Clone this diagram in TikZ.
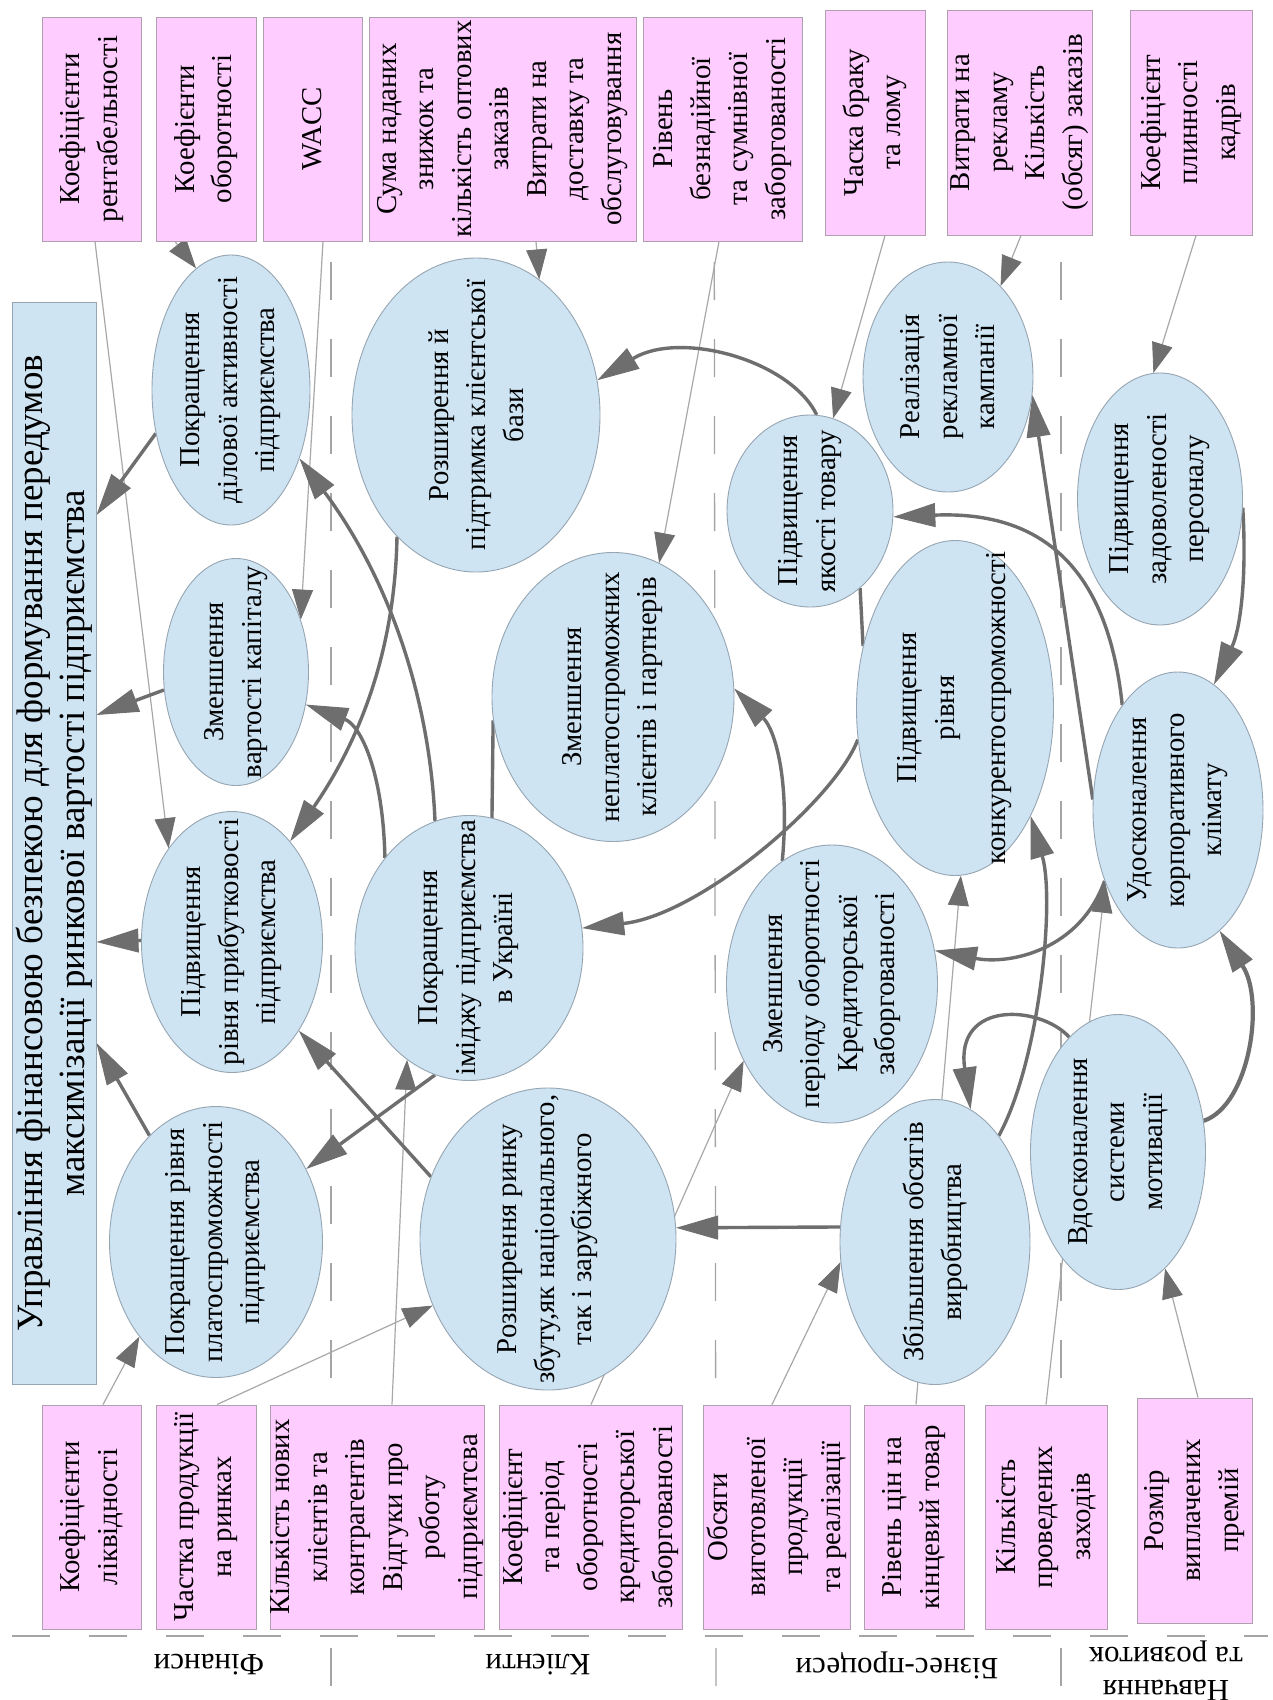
\documentclass[tikz,border=0pt]{standalone}
\usepackage{fontspec}
\setmainfont{Liberation Serif}
\usetikzlibrary{arrows.meta,shapes.geometric,backgrounds}

\definecolor{boxpink}{RGB}{255,204,255}
\definecolor{boxedge}{RGB}{175,160,175}
\definecolor{ovalblue}{RGB}{206,228,243}
\definecolor{ovaledge}{RGB}{150,165,178}
\definecolor{linkdark}{RGB}{110,110,110}
\definecolor{linklight}{RGB}{168,168,168}
\definecolor{guide}{RGB}{165,165,165}

\tikzset{
  ibox/.style={draw=boxedge, line width=1pt, fill=boxpink, inner sep=0pt},
  oval/.style={ellipse, draw=ovaledge, line width=0.9pt, fill=ovalblue, inner sep=0pt},
  headbox/.style={draw=ovaledge, line width=1pt, fill=ovalblue, inner sep=0pt},
  vtext/.style={rotate=90, align=center, inner sep=0pt, font=\fontsize{28.8}{37.5}\selectfont},
  ttext/.style={rotate=90, align=center, inner sep=0pt, font=\fontsize{37}{42}\selectfont},
  ptext/.style={rotate=180, align=center, inner sep=0pt, font=\fontsize{31}{33}\selectfont},
  strong/.style={draw=linkdark, line width=3.4pt, -{Triangle[length=42pt,width=24pt,line width=1pt]}},
  plainlink/.style={draw=linkdark, line width=3.4pt},
  weak/.style={draw=linklight, line width=1.2pt, -{Triangle[length=30pt,width=21pt,line width=0.8pt,color=linkdark,fill=linkdark]}},
  guideline/.style={draw=guide, line width=1.3pt, dash pattern=on 38pt off 39pt},
}

\begin{document}
\begin{tikzpicture}[x=1pt,y=-1pt]
\useasboundingbox (0,0) rectangle (1272,1700);

% ---------- heading ----------
\node[headbox, minimum width=84pt, minimum height=1082pt] (title) at (54,843) {};
\node[ttext] (titlet) at (title) {Управління фінансовою безпекою для формування передумов\\максимізації ринкової вартості підприємства};

% ---------- indicator boxes, upper row ----------
\node[ibox, minimum width=99pt, minimum height=224pt] (p1) at (91.5,129) {};
\node[vtext] (p1t) at (p1) {Коефіцієнти\\рентабельності};
\node[ibox, minimum width=100pt, minimum height=224pt] (p2) at (206,129) {};
\node[vtext] (p2t) at (p2) {Коефієнти\\оборотності};
\node[ibox, minimum width=99pt, minimum height=224pt] (p3) at (312.5,129) {};
\node[vtext] (p3t) at (p3) {WACC};
\node[ibox, minimum width=267pt, minimum height=224pt] (p4) at (502.5,129) {};
\node[vtext] (p4t) at (p4) {Сума наданих\\знижок та\\кількість оптових\\заказів\\Витрати на\\доставку та\\обслуговування};
\node[ibox, minimum width=159pt, minimum height=224pt] (p5) at (722.5,129) {};
\node[vtext] (p5t) at (p5) {Рівень\\безнадійної\\та сумнівної\\заборгованості};
\node[ibox, minimum width=100pt, minimum height=225pt] (p6) at (875,122.5) {};
\node[vtext] (p6t) at (p6) {Часка браку\\та лому};
\node[ibox, minimum width=145pt, minimum height=225pt] (p7) at (1019.5,122.5) {};
\node[vtext] (p7t) at (p7) {Витрати на\\рекламу\\Кількість\\(обсяг) заказів};
\node[ibox, minimum width=122pt, minimum height=225pt] (p8) at (1191,122.5) {};
\node[vtext] (p8t) at (p8) {Коефіцієнт\\плинності\\кадрів};

% ---------- indicator boxes, lower row ----------
\node[ibox, minimum width=99pt, minimum height=224pt] (q1) at (91.5,1517) {};
\node[vtext] (q1t) at (q1) {Коефіцієнти\\ліквідності};
\node[ibox, minimum width=100pt, minimum height=224pt] (q2) at (206,1517) {};
\node[vtext] (q2t) at (q2) {Частка продукції\\на ринках};
\node[ibox, minimum width=214pt, minimum height=224pt] (q3) at (377,1517) {};
\node[vtext] (q3t) at (q3) {Кількість нових\\клієнтів та\\контрагентів\\Відгуки про\\роботу\\підприємтсва};
\node[ibox, minimum width=183pt, minimum height=224pt] (q4) at (590.5,1517) {};
\node[vtext] (q4t) at (q4) {Коефіцієнт\\та період\\оборотності\\кредиторської\\заборгованості};
\node[ibox, minimum width=147pt, minimum height=224pt] (q5) at (776.5,1517) {};
\node[vtext] (q5t) at (q5) {Обсяги\\виготовленої\\продукції\\та реалізації};
\node[ibox, minimum width=100pt, minimum height=224pt] (q6) at (914,1517) {};
\node[vtext] (q6t) at (q6) {Рівень цін на\\кінцевий товар};
\node[ibox, minimum width=122pt, minimum height=224pt] (q7) at (1046,1517) {};
\node[vtext] (q7t) at (q7) {Кількість\\проведених\\заходів};
\node[ibox, minimum width=115pt, minimum height=225pt] (q8) at (1194.5,1510.5) {};
\node[vtext] (q8t) at (q8) {Розмір\\виплачених\\премій};

% ---------- goals ----------
\node[oval, minimum width=213pt, minimum height=271pt] (e1) at (216,1242) {};
\node[vtext] (e1t) at (e1) {Покращення рівня\\платоспроможності\\підприємства};
\node[oval, minimum width=181pt, minimum height=261pt] (e2) at (232,942) {};
\node[vtext] (e2t) at (e2) {Підвищення\\рівня прибутковості\\підприємства};
\node[oval, minimum width=145pt, minimum height=227pt] (e3) at (236,672) {};
\node[vtext] (e3t) at (e3) {Зменшення\\вартості капіталу};
\node[oval, minimum width=158pt, minimum height=270pt] (e4) at (231,390) {};
\node[vtext] (e4t) at (e4) {Покращення\\ділової активності\\підприємства};

\node[oval, minimum width=256pt, minimum height=302pt] (e5) at (548,1239) {};
\node[vtext] (e5t) at (e5) {Розширення ринку\\збуту,як національного,\\так і зарубіжного};
\node[oval, minimum width=228pt, minimum height=265pt] (e6) at (469,948) {};
\node[vtext] (e6t) at (e6) {Покращення\\іміджу підприємства\\в Україні};
\node[oval, minimum width=242pt, minimum height=289pt] (e7) at (613,697) {};
\node[vtext] (e7t) at (e7) {Зменшення\\неплатоспроможних\\клієнтів і партнерів};
\node[oval, minimum width=248pt, minimum height=314pt] (e8) at (476,415) {};
\node[vtext] (e8t) at (e8) {Розширення й\\підтримка клієнтської\\бази};

\node[oval, minimum width=190pt, minimum height=285pt] (e9) at (935,1242) {};
\node[vtext] (e9t) at (e9) {Збільшення обсягів\\виробництва};
\node[oval, minimum width=211pt, minimum height=278pt] (e10) at (832,984) {};
\node[vtext] (e10t) at (e10) {Зменшення\\періоду оборотності\\Кредиторської\\заборгованості};
\node[oval, minimum width=197pt, minimum height=335pt] (e11) at (955,708) {};
\node[vtext] (e11t) at (e11) {Підвищення\\рівня\\[14pt]конкурентоспроможності};
\node[oval, minimum width=166pt, minimum height=192pt] (e12) at (810,511) {};
\node[vtext] (e12t) at (e12) {Підвищення\\якості товару};

\node[oval, minimum width=175pt, minimum height=275pt] (e13) at (1118,1152) {};
\node[vtext] (e13t) at (e13) {Вдосконалення\\системи\\мотивації};
\node[oval, minimum width=170pt, minimum height=276pt] (e14) at (1178,810) {};
\node[vtext] (e14t) at (e14) {Удосконалення\\корпоративного\\клімату};
\node[oval, minimum width=170pt, minimum height=230pt] (e15) at (948,377) {};
\node[vtext] (e15t) at (e15) {Реалізація\\рекламної\\кампанії};
\node[oval, minimum width=165pt, minimum height=252pt] (e16) at (1160,499) {};
\node[vtext] (e16t) at (e16) {Підвищення\\задоволеності\\персоналу};

% ---------- perspective names ----------
\node[ptext] (l1) at (209,1665) {Фінанси};
\node[ptext] (l2) at (538,1665) {Клієнти};
\node[ptext] (l3) at (897,1665) {Бізнес-процеси};
\node[ptext] (l4) at (1166,1671) {Навчання\\та розвиток};

\begin{scope}[on background layer]
  \fill[white] (0,0) rectangle (1272,1700);
  % perspective separators
  \coordinate (g1a) at (331,0);    \coordinate (g1b) at (331,1700);
  \coordinate (g2a) at (714,0);    \coordinate (g2b) at (716,1700);
  \coordinate (g3a) at (1061,0);   \coordinate (g3b) at (1061,1700);
  \coordinate (h1a) at (12,1636);  \coordinate (h1b) at (1268,1636);
  \draw[guideline, dash phase=46pt] (g1a) -- (g1b);
  \draw[guideline, dash phase=46pt] (g2a) -- (g2b);
  \draw[guideline, dash phase=46pt] (g3a) -- (g3b);
  \draw[guideline] (h1a) -- (h1b);

  % indicators to goals
  \draw[weak] ([xshift=3.5pt]p1.south) -- (e2.124);
  \draw[weak] ([xshift=-31pt]p2.south) -- (e4.106);
  \draw[weak] ([xshift=10.5pt]p3.south) -- (e3.39);
  \draw[weak] ([xshift=33.5pt]p4.south) -- (e8.65);
  \draw[weak] ([xshift=-3.5pt]p5.south) -- (e7.71);
  \draw[weak] ([xshift=10pt]p6.south) -- (e12.76);
  \draw[weak] ([xshift=1.5pt]p7.south) -- (e15.60);
  \draw[weak] ([xshift=5pt]p8.south) -- (e16.93);
  \draw[weak] ([xshift=11.5pt]q1.north) -- (e1.231);
  \draw[weak] ([xshift=11pt]q2.north) -- (e5.210);
  \draw[weak] ([xshift=15pt]q3.north) -- (e6.241);
  \draw[weak] ([xshift=0.5pt]q4.north) -- (e10.221);
  \draw[weak] ([xshift=-4.5pt]q5.north) -- (e9.192);
  \draw[weak] ([xshift=2pt]q6.north) -- (e11.272);
  \draw[weak] (q7.north) -- (e14.225);
  \draw[weak] ([xshift=3.5pt]q8.north) -- (e13.292);

  % financial goals into the heading
  \draw[strong] (e4.210) -- ([yshift=328pt]title.east);
  \draw[strong] (e3.194) -- ([yshift=128pt]title.east);
  \draw[strong] (e2.179) -- ([yshift=-99pt]title.east);
  \draw[strong] (e1.122) -- ([yshift=-200pt]title.east);

  % links between goals
  \draw[strong] (e8.237) .. controls (395,650) and (360,740) .. (e2.60);
  \draw[strong] (e6.105) .. controls (430,700) and (390,580) .. (e4.315);
  \draw[strong] (e6.133) .. controls (383,770) and (360,725) .. (e3.335);
  \draw[strong] (e12.86) .. controls (790,360) and (680,330) .. (e8.16);
  \draw[strong] (e11.198) .. controls (835,800) and (700,915) .. (e6.10);
  \draw[strong] (e10.112) .. controls (790,780) and (775,730) .. (e7.4);
  \draw[strong] (e9.171) -- (e5.5);
  \draw[strong] (e5.152) -- (e2.307);
  \draw[strong] (e6.255) -- (e1.39);
  \draw[strong] (e14.173) -- (e15.348);
  \draw[strong] (e9.59) .. controls (1040,1060) and (1055,900) .. (e11.305);
  \draw[strong] (e14.118) .. controls (1110,590) and (1060,510) .. (e12.356);
  \draw[strong] (e16.354) .. controls (1247,580) and (1240,630) .. (e14.74);
  \draw[strong] (e13.113) .. controls (1040,1005) and (955,1000) .. (e9.75);
  \draw[strong] (e14.224) .. controls (1080,950) and (1010,965) .. (e10.18);
  \draw[strong, line width=4.2pt] (e13.20) .. controls (1250,1105) and (1265,1000) .. (e14.289);
  \draw[plainlink] (e12.303) -- (e11.146);
  \draw[plainlink] (e7.191) -- (e6.80);
\end{scope}
\end{tikzpicture}
\end{document}
